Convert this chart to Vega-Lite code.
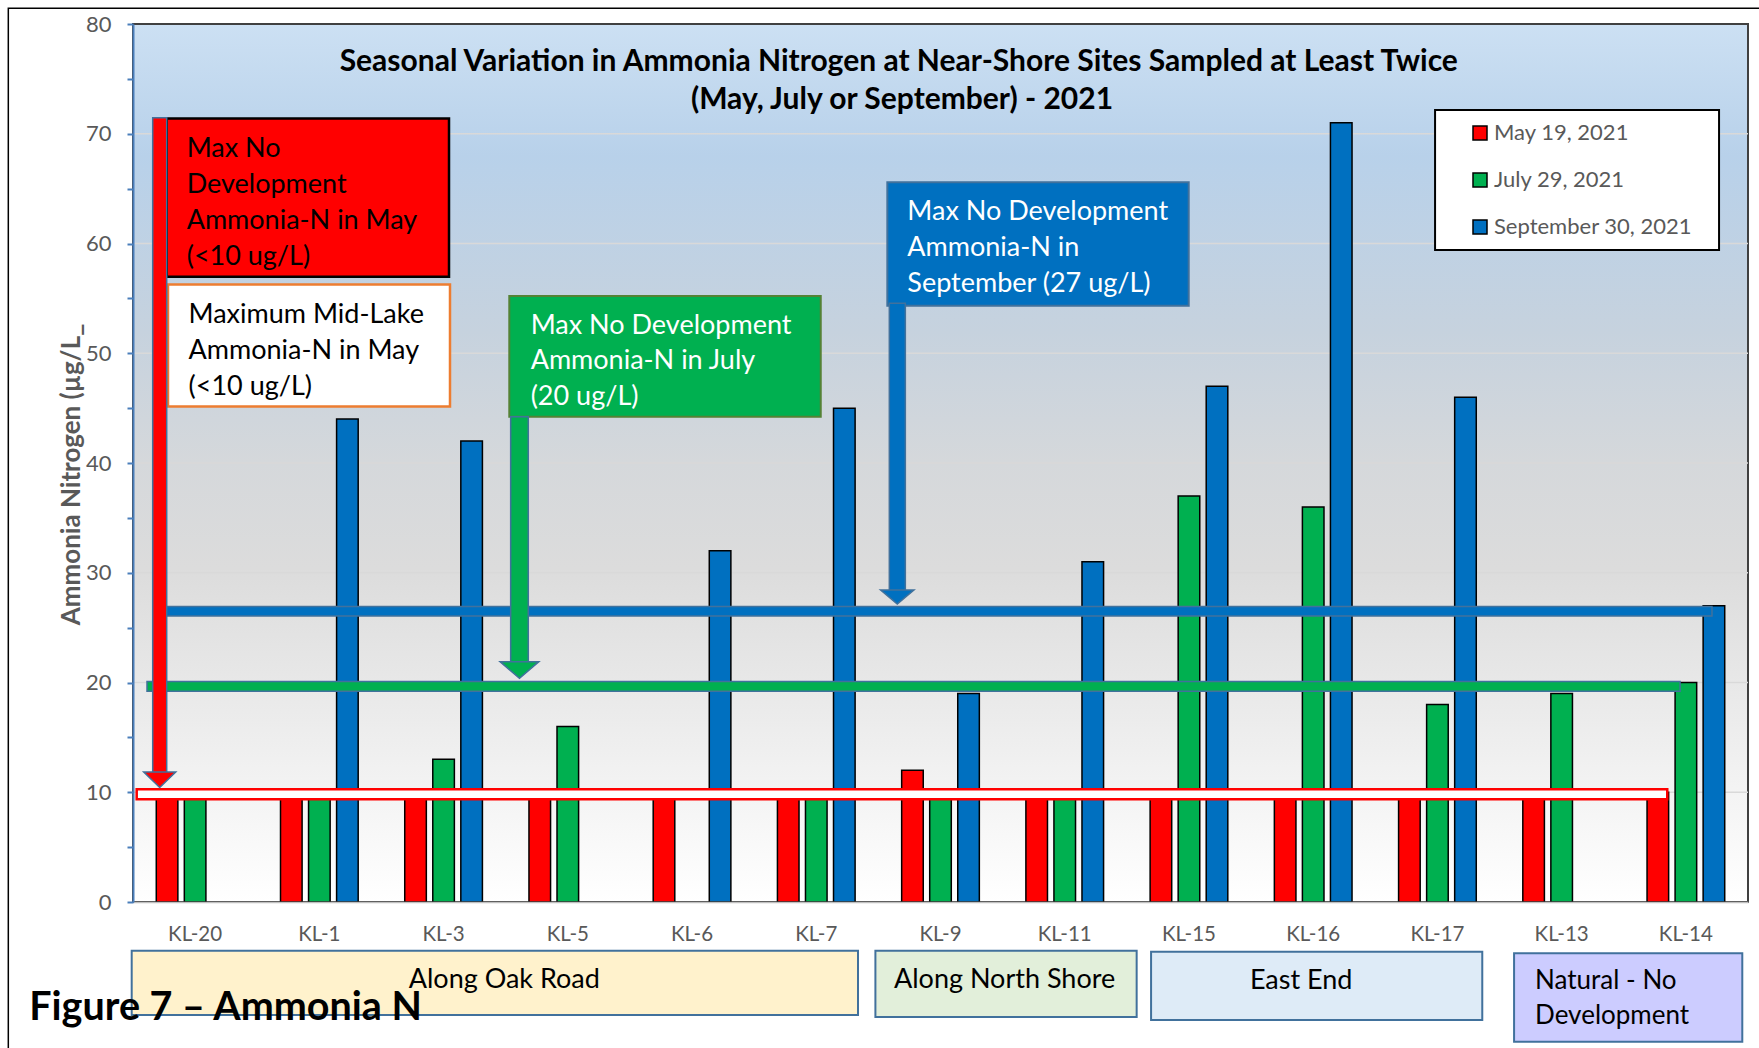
{
  "$schema": "https://vega.github.io/schema/vega-lite/v6.json",
  "width": 1615,
  "height": 878,
  "autosize": {"type": "none"},
  "padding": {"left": 133, "top": 24, "right": 11, "bottom": 146},
  "background": "white",
  "config": {"font": "Lato", "view": {"stroke": null}, "legend": {"labelFontSize": 22, "labelLimit": 400}},
  "resolve": {"scale": {"x": "independent"}, "axis": {"y": "independent"}},
  "layer": [
    {
      "data": {"values": [{"x1": -1.0037, "x2": 13.2, "y1": 81.43, "y2": -14.5}]},
      "mark": {"type": "rect", "fill": null, "stroke": "black", "strokeWidth": 1.5},
      "encoding": {
        "x": {"field": "x1", "type": "quantitative", "scale": {"domain": [0, 13], "nice": false, "zero": false}, "axis": null},
        "x2": {"field": "x2"},
        "y": {"field": "y1", "type": "quantitative", "scale": {"domain": [0, 80], "nice": false}, "axis": null},
        "y2": {"field": "y2"}
      }
    },
    {
      "data": {"values": [{"x1": 0, "x2": 13, "y1": 80, "y2": 0}]},
      "mark": {"type": "rect", "stroke": "#404040", "strokeWidth": 2,
        "fill": {"gradient": "linear", "x1": 0, "y1": 0, "x2": 0, "y2": 1,
          "stops": [
            {"offset": 0, "color": "#CCE0F3"},
            {"offset": 0.15, "color": "#B8D1EA"},
            {"offset": 0.35, "color": "#C6D2DE"},
            {"offset": 0.5, "color": "#D5D8DB"},
            {"offset": 0.62, "color": "#DCDCDC"},
            {"offset": 1, "color": "#FFFFFF"}
          ]}},
      "encoding": {
        "x": {"field": "x1", "type": "quantitative", "scale": {"domain": [0, 13], "nice": false, "zero": false}, "axis": null},
        "x2": {"field": "x2"},
        "y": {"field": "y1", "type": "quantitative", "scale": {"domain": [0, 80], "nice": false}, "axis": null},
        "y2": {"field": "y2"}
      }
    },
    {
      "data": {"values": [{"v": 10}, {"v": 20}, {"v": 30}, {"v": 40}, {"v": 50}, {"v": 60}, {"v": 70}]},
      "mark": {"type": "rule", "color": "#D9D9D9", "strokeWidth": 1.5},
      "encoding": {
        "y": {"field": "v", "type": "quantitative", "scale": {"domain": [0, 80], "nice": false}, "axis": null}
      }
    },
    {
      "data": {"values": [
        {"site": "KL-20", "date": "May 19, 2021", "ammonia": 10},
        {"site": "KL-20", "date": "July 29, 2021", "ammonia": 10},
        {"site": "KL-1", "date": "May 19, 2021", "ammonia": 10},
        {"site": "KL-1", "date": "July 29, 2021", "ammonia": 10},
        {"site": "KL-1", "date": "September 30, 2021", "ammonia": 44},
        {"site": "KL-3", "date": "May 19, 2021", "ammonia": 10},
        {"site": "KL-3", "date": "July 29, 2021", "ammonia": 13},
        {"site": "KL-3", "date": "September 30, 2021", "ammonia": 42},
        {"site": "KL-5", "date": "May 19, 2021", "ammonia": 10},
        {"site": "KL-5", "date": "July 29, 2021", "ammonia": 16},
        {"site": "KL-6", "date": "May 19, 2021", "ammonia": 10},
        {"site": "KL-6", "date": "September 30, 2021", "ammonia": 32},
        {"site": "KL-7", "date": "May 19, 2021", "ammonia": 10},
        {"site": "KL-7", "date": "July 29, 2021", "ammonia": 10},
        {"site": "KL-7", "date": "September 30, 2021", "ammonia": 45},
        {"site": "KL-9", "date": "May 19, 2021", "ammonia": 12},
        {"site": "KL-9", "date": "July 29, 2021", "ammonia": 10},
        {"site": "KL-9", "date": "September 30, 2021", "ammonia": 19},
        {"site": "KL-11", "date": "May 19, 2021", "ammonia": 10},
        {"site": "KL-11", "date": "July 29, 2021", "ammonia": 10},
        {"site": "KL-11", "date": "September 30, 2021", "ammonia": 31},
        {"site": "KL-15", "date": "May 19, 2021", "ammonia": 10},
        {"site": "KL-15", "date": "July 29, 2021", "ammonia": 37},
        {"site": "KL-15", "date": "September 30, 2021", "ammonia": 47},
        {"site": "KL-16", "date": "May 19, 2021", "ammonia": 10},
        {"site": "KL-16", "date": "July 29, 2021", "ammonia": 36},
        {"site": "KL-16", "date": "September 30, 2021", "ammonia": 71},
        {"site": "KL-17", "date": "May 19, 2021", "ammonia": 10},
        {"site": "KL-17", "date": "July 29, 2021", "ammonia": 18},
        {"site": "KL-17", "date": "September 30, 2021", "ammonia": 46},
        {"site": "KL-13", "date": "May 19, 2021", "ammonia": 10},
        {"site": "KL-13", "date": "July 29, 2021", "ammonia": 19},
        {"site": "KL-14", "date": "May 19, 2021", "ammonia": 10},
        {"site": "KL-14", "date": "July 29, 2021", "ammonia": 20},
        {"site": "KL-14", "date": "September 30, 2021", "ammonia": 27}
      ]},
      "mark": {"type": "bar", "stroke": "black", "strokeWidth": 1.5},
      "encoding": {
        "x": {"field": "site", "type": "nominal",
          "sort": ["KL-20", "KL-1", "KL-3", "KL-5", "KL-6", "KL-7", "KL-9", "KL-11", "KL-15", "KL-16", "KL-17", "KL-13", "KL-14"],
          "scale": {"paddingInner": 0, "paddingOuter": 0},
          "axis": {"orient": "bottom", "title": null, "ticks": false, "tickSize": 0, "labelAngle": 0,
            "labelColor": "#595959", "labelFontSize": 20.5, "labelFont": "Lato", "labelPadding": 32, "labelBaseline": "middle",
            "domainColor": "#BFBFBF", "domainWidth": 1.5, "grid": false, "zindex": 1}},
        "xOffset": {"field": "date", "type": "nominal",
          "sort": ["May 19, 2021", "July 29, 2021", "September 30, 2021"],
          "scale": {"paddingInner": 0.23, "paddingOuter": 0.83}},
        "y": {"field": "ammonia", "type": "quantitative", "scale": {"domain": [0, 80], "nice": false},
          "axis": {"orient": "left", "values": [0, 5, 10, 15, 20, 25, 30, 35, 40, 45, 50, 55, 60, 65, 70, 75, 80],
            "labelExpr": "datum.value % 10 === 0 ? datum.label : ''",
            "grid": false, "domainColor": "#4A7EBB", "domainWidth": 2, "tickColor": "#4A7EBB", "tickWidth": 2, "tickSize": 6,
            "labelColor": "#595959", "labelFontSize": 22, "labelFont": "Lato", "labelPadding": 16,
            "title": "Ammonia Nitrogen (µg/L_", "titleColor": "#595959", "titleFontSize": 26, "titleFontWeight": 700, "titleFont": "Lato",
            "titleX": -62, "titleY": 450, "titleAlign": "center", "titleBaseline": "middle", "titleAngle": -90, "zindex": 1}},
        "color": {"field": "date", "type": "nominal",
          "sort": ["May 19, 2021", "July 29, 2021", "September 30, 2021"],
          "scale": {"domain": ["May 19, 2021", "July 29, 2021", "September 30, 2021"], "range": ["#FF0000", "#00B050", "#0070C0"]},
          "legend": {"title": null, "orient": "none", "legendX": 1336, "legendY": 98, "direction": "vertical",
            "symbolType": "square", "symbolSize": 196, "symbolStrokeColor": "black", "symbolStrokeWidth": 1.5,
            "labelColor": "#595959", "labelFontSize": 22, "labelLimit": 400, "labelFont": "Lato", "rowPadding": 25, "labelOffset": 3, "padding": 0, "zindex": 2}}
      }
    },
    {
      "data": {"values": [{"x1": 0.0298, "x2": 12.35, "y1": 10.27, "y2": 9.36}]},
      "mark": {"type": "rect", "fill": "white", "stroke": "#FF0000", "strokeWidth": 2.5},
      "encoding": {
        "x": {"field": "x1", "type": "quantitative", "scale": {"domain": [0, 13], "nice": false, "zero": false}, "axis": null},
        "x2": {"field": "x2"},
        "y": {"field": "y1", "type": "quantitative", "scale": {"domain": [0, 80], "nice": false}, "axis": null},
        "y2": {"field": "y2"}
      }
    },
    {
      "data": {"values": [{"x1": 0.1127, "x2": 12.453, "y1": 20.1, "y2": 19.2}]},
      "mark": {"type": "rect", "fill": "#00B050", "stroke": "#41719C", "strokeWidth": 1.5},
      "encoding": {
        "x": {"field": "x1", "type": "quantitative", "scale": {"domain": [0, 13], "nice": false, "zero": false}, "axis": null},
        "x2": {"field": "x2"},
        "y": {"field": "y1", "type": "quantitative", "scale": {"domain": [0, 80], "nice": false}, "axis": null},
        "y2": {"field": "y2"}
      }
    },
    {
      "data": {"values": [{"x1": 0.2656, "x2": 12.71, "y1": 26.93, "y2": 26.07}]},
      "mark": {"type": "rect", "fill": "#0070C0", "stroke": "#41719C", "strokeWidth": 1.5},
      "encoding": {
        "x": {"field": "x1", "type": "quantitative", "scale": {"domain": [0, 13], "nice": false, "zero": false}, "axis": null},
        "x2": {"field": "x2"},
        "y": {"field": "y1", "type": "quantitative", "scale": {"domain": [0, 80], "nice": false}, "axis": null},
        "y2": {"field": "y2"}
      }
    },
    {
      "data": {"values": [{"x1": 0.2713, "x2": 2.5437, "y1": 71.4, "y2": 56.97}]},
      "mark": {"type": "rect", "fill": "#FF0000", "stroke": "black", "strokeWidth": 2.5},
      "encoding": {
        "x": {"field": "x1", "type": "quantitative", "scale": {"domain": [0, 13], "nice": false, "zero": false}, "axis": null},
        "x2": {"field": "x2"},
        "y": {"field": "y1", "type": "quantitative", "scale": {"domain": [0, 80], "nice": false}, "axis": null},
        "y2": {"field": "y2"}
      }
    },
    {
      "data": {"values": [{"x1": 0.2817, "x2": 2.5517, "y1": 56.26, "y2": 45.15}]},
      "mark": {"type": "rect", "fill": "white", "stroke": "#ED7D31", "strokeWidth": 2.5},
      "encoding": {
        "x": {"field": "x1", "type": "quantitative", "scale": {"domain": [0, 13], "nice": false, "zero": false}, "axis": null},
        "x2": {"field": "x2"},
        "y": {"field": "y1", "type": "quantitative", "scale": {"domain": [0, 80], "nice": false}, "axis": null},
        "y2": {"field": "y2"}
      }
    },
    {
      "data": {"values": [{"x1": 3.029, "x2": 5.536, "y1": 55.22, "y2": 44.22}]},
      "mark": {"type": "rect", "fill": "#00B050", "stroke": "#548235", "strokeWidth": 2},
      "encoding": {
        "x": {"field": "x1", "type": "quantitative", "scale": {"domain": [0, 13], "nice": false, "zero": false}, "axis": null},
        "x2": {"field": "x2"},
        "y": {"field": "y1", "type": "quantitative", "scale": {"domain": [0, 80], "nice": false}, "axis": null},
        "y2": {"field": "y2"}
      }
    },
    {
      "data": {"values": [{"x1": 6.072, "x2": 8.498, "y1": 65.57, "y2": 54.33}]},
      "mark": {"type": "rect", "fill": "#0070C0", "stroke": "#41719C", "strokeWidth": 2},
      "encoding": {
        "x": {"field": "x1", "type": "quantitative", "scale": {"domain": [0, 13], "nice": false, "zero": false}, "axis": null},
        "x2": {"field": "x2"},
        "y": {"field": "y1", "type": "quantitative", "scale": {"domain": [0, 80], "nice": false}, "axis": null},
        "y2": {"field": "y2"}
      }
    },
    {
      "data": {"values": [{"x1": 0.1586, "x2": 0.2713, "y1": 71.46, "y2": 11.7}]},
      "mark": {"type": "rect", "fill": "#FF0000", "stroke": "#41719C", "strokeWidth": 1.5},
      "encoding": {
        "x": {"field": "x1", "type": "quantitative", "scale": {"domain": [0, 13], "nice": false, "zero": false}, "axis": null},
        "x2": {"field": "x2"},
        "y": {"field": "y1", "type": "quantitative", "scale": {"domain": [0, 80], "nice": false}, "axis": null},
        "y2": {"field": "y2"}
      }
    },
    {
      "data": {"values": [{"x": 0.215, "y": 11.14}]},
      "mark": {"type": "point", "filled": true, "opacity": 1, "fill": "#FF0000", "stroke": "#41719C", "strokeWidth": 1.5,
        "shape": "M-1,-0.48L1,-0.48L0,0.48Z", "size": 1024},
      "encoding": {
        "x": {"field": "x", "type": "quantitative", "scale": {"domain": [0, 13], "nice": false, "zero": false}, "axis": null},
        "y": {"field": "y", "type": "quantitative", "scale": {"domain": [0, 80], "nice": false}, "axis": null}
      }
    },
    {
      "data": {"values": [{"x1": 3.04, "x2": 3.182, "y1": 44.22, "y2": 21.8}]},
      "mark": {"type": "rect", "fill": "#00B050", "stroke": "#41719C", "strokeWidth": 1.5},
      "encoding": {
        "x": {"field": "x1", "type": "quantitative", "scale": {"domain": [0, 13], "nice": false, "zero": false}, "axis": null},
        "x2": {"field": "x2"},
        "y": {"field": "y1", "type": "quantitative", "scale": {"domain": [0, 80], "nice": false}, "axis": null},
        "y2": {"field": "y2"}
      }
    },
    {
      "data": {"values": [{"x": 3.111, "y": 21.14}]},
      "mark": {"type": "point", "filled": true, "opacity": 1, "fill": "#00B050", "stroke": "#41719C", "strokeWidth": 1.5,
        "shape": "M-1,-0.43L1,-0.43L0,0.43Z", "size": 1498},
      "encoding": {
        "x": {"field": "x", "type": "quantitative", "scale": {"domain": [0, 13], "nice": false, "zero": false}, "axis": null},
        "y": {"field": "y", "type": "quantitative", "scale": {"domain": [0, 80], "nice": false}, "axis": null}
      }
    },
    {
      "data": {"values": [{"x1": 6.088, "x2": 6.217, "y1": 54.55, "y2": 28.3}]},
      "mark": {"type": "rect", "fill": "#0070C0", "stroke": "#41719C", "strokeWidth": 1.5},
      "encoding": {
        "x": {"field": "x1", "type": "quantitative", "scale": {"domain": [0, 13], "nice": false, "zero": false}, "axis": null},
        "x2": {"field": "x2"},
        "y": {"field": "y1", "type": "quantitative", "scale": {"domain": [0, 80], "nice": false}, "axis": null},
        "y2": {"field": "y2"}
      }
    },
    {
      "data": {"values": [{"x": 6.152, "y": 27.79}]},
      "mark": {"type": "point", "filled": true, "opacity": 1, "fill": "#0070C0", "stroke": "#41719C", "strokeWidth": 1.5,
        "shape": "M-1,-0.42L1,-0.42L0,0.42Z", "size": 1109},
      "encoding": {
        "x": {"field": "x", "type": "quantitative", "scale": {"domain": [0, 13], "nice": false, "zero": false}, "axis": null},
        "y": {"field": "y", "type": "quantitative", "scale": {"domain": [0, 80], "nice": false}, "axis": null}
      }
    },
    {
      "data": {"values": [{"x1": 10.481, "x2": 12.767, "y1": 72.16, "y2": 59.41}]},
      "mark": {"type": "rect", "fill": "white", "stroke": "black", "strokeWidth": 2},
      "encoding": {
        "x": {"field": "x1", "type": "quantitative", "scale": {"domain": [0, 13], "nice": false, "zero": false}, "axis": null},
        "x2": {"field": "x2"},
        "y": {"field": "y1", "type": "quantitative", "scale": {"domain": [0, 80], "nice": false}, "axis": null},
        "y2": {"field": "y2"}
      }
    },
    {
      "data": {"values": [{"x1": -0.0105, "x2": 5.836, "y1": -4.44, "y2": -10.3}]},
      "mark": {"type": "rect", "fill": "#FFF2CC", "stroke": "#41719C", "strokeWidth": 2},
      "encoding": {
        "x": {"field": "x1", "type": "quantitative", "scale": {"domain": [0, 13], "nice": false, "zero": false}, "axis": null},
        "x2": {"field": "x2"},
        "y": {"field": "y1", "type": "quantitative", "scale": {"domain": [0, 80], "nice": false}, "axis": null},
        "y2": {"field": "y2"}
      }
    },
    {
      "data": {"values": [{"x1": 5.976, "x2": 8.079, "y1": -4.45, "y2": -10.48}]},
      "mark": {"type": "rect", "fill": "#E2EFDA", "stroke": "#41719C", "strokeWidth": 2},
      "encoding": {
        "x": {"field": "x1", "type": "quantitative", "scale": {"domain": [0, 13], "nice": false, "zero": false}, "axis": null},
        "x2": {"field": "x2"},
        "y": {"field": "y1", "type": "quantitative", "scale": {"domain": [0, 80], "nice": false}, "axis": null},
        "y2": {"field": "y2"}
      }
    },
    {
      "data": {"values": [{"x1": 8.195, "x2": 10.861, "y1": -4.53, "y2": -10.75}]},
      "mark": {"type": "rect", "fill": "#DEEBF7", "stroke": "#41719C", "strokeWidth": 2},
      "encoding": {
        "x": {"field": "x1", "type": "quantitative", "scale": {"domain": [0, 13], "nice": false, "zero": false}, "axis": null},
        "x2": {"field": "x2"},
        "y": {"field": "y1", "type": "quantitative", "scale": {"domain": [0, 80], "nice": false}, "axis": null},
        "y2": {"field": "y2"}
      }
    },
    {
      "data": {"values": [{"x1": 11.117, "x2": 12.954, "y1": -4.67, "y2": -12.73}]},
      "mark": {"type": "rect", "fill": "#CCCCFF", "stroke": "#41719C", "strokeWidth": 2},
      "encoding": {
        "x": {"field": "x1", "type": "quantitative", "scale": {"domain": [0, 13], "nice": false, "zero": false}, "axis": null},
        "x2": {"field": "x2"},
        "y": {"field": "y1", "type": "quantitative", "scale": {"domain": [0, 80], "nice": false}, "axis": null},
        "y2": {"field": "y2"}
      }
    },
    {
      "data": {"values": [
        {"t": "Seasonal Variation in Ammonia Nitrogen at Near-Shore Sites Sampled at Least Twice", "x": 6.164, "y": 75.72},
        {"t": "(May, July or September) - 2021", "x": 6.19, "y": 72.21}
      ]},
      "mark": {"type": "text", "align": "center", "baseline": "alphabetic", "font": "Lato", "fontWeight": "bold", "fontSize": 30, "color": "black"},
      "encoding": {
        "x": {"field": "x", "type": "quantitative", "scale": {"domain": [0, 13], "nice": false, "zero": false}, "axis": null},
        "y": {"field": "y", "type": "quantitative", "scale": {"domain": [0, 80], "nice": false}, "axis": null},
        "text": {"field": "t"}
      }
    },
    {
      "data": {"values": [
        {"t": "Max No", "x": 0.432, "y": 67.91},
        {"t": "Development", "x": 0.432, "y": 64.57},
        {"t": "Ammonia-N in May", "x": 0.432, "y": 61.29},
        {"t": "(<10 ug/L)", "x": 0.432, "y": 58.04},
        {"t": "Maximum Mid-Lake", "x": 0.447, "y": 52.78},
        {"t": "Ammonia-N in May", "x": 0.447, "y": 49.44},
        {"t": "(<10 ug/L)", "x": 0.447, "y": 46.19}
      ]},
      "mark": {"type": "text", "align": "left", "baseline": "alphabetic", "font": "Lato", "fontSize": 27, "color": "black"},
      "encoding": {
        "x": {"field": "x", "type": "quantitative", "scale": {"domain": [0, 13], "nice": false, "zero": false}, "axis": null},
        "y": {"field": "y", "type": "quantitative", "scale": {"domain": [0, 80], "nice": false}, "axis": null},
        "text": {"field": "t"}
      }
    },
    {
      "data": {"values": [
        {"t": "Max No Development", "x": 3.201, "y": 51.75},
        {"t": "Ammonia-N in July", "x": 3.201, "y": 48.52},
        {"t": "(20 ug/L)", "x": 3.201, "y": 45.28},
        {"t": "Max No Development", "x": 6.233, "y": 62.14},
        {"t": "Ammonia-N in", "x": 6.233, "y": 58.86},
        {"t": "September (27 ug/L)", "x": 6.233, "y": 55.61}
      ]},
      "mark": {"type": "text", "align": "left", "baseline": "alphabetic", "font": "Lato", "fontSize": 27, "color": "white"},
      "encoding": {
        "x": {"field": "x", "type": "quantitative", "scale": {"domain": [0, 13], "nice": false, "zero": false}, "axis": null},
        "y": {"field": "y", "type": "quantitative", "scale": {"domain": [0, 80], "nice": false}, "axis": null},
        "text": {"field": "t"}
      }
    },
    {
      "data": {"values": [
        {"t": "Along Oak Road", "x": 2.989, "y": -7.86},
        {"t": "Along North Shore", "x": 7.016, "y": -7.88},
        {"t": "East End", "x": 9.403, "y": -7.96}
      ]},
      "mark": {"type": "text", "align": "center", "baseline": "alphabetic", "font": "Lato", "fontSize": 27, "color": "black"},
      "encoding": {
        "x": {"field": "x", "type": "quantitative", "scale": {"domain": [0, 13], "nice": false, "zero": false}, "axis": null},
        "y": {"field": "y", "type": "quantitative", "scale": {"domain": [0, 80], "nice": false}, "axis": null},
        "text": {"field": "t"}
      }
    },
    {
      "data": {"values": [
        {"t": "Natural - No", "x": 11.286, "y": -7.96},
        {"t": "Development", "x": 11.286, "y": -11.15}
      ]},
      "mark": {"type": "text", "align": "left", "baseline": "alphabetic", "font": "Lato", "fontSize": 26, "color": "black"},
      "encoding": {
        "x": {"field": "x", "type": "quantitative", "scale": {"domain": [0, 13], "nice": false, "zero": false}, "axis": null},
        "y": {"field": "y", "type": "quantitative", "scale": {"domain": [0, 80], "nice": false}, "axis": null},
        "text": {"field": "t"}
      }
    },
    {
      "data": {"values": [{"t": "Figure 7 – Ammonia N", "x": -0.835, "y": -10.75}]},
      "mark": {"type": "text", "align": "left", "baseline": "alphabetic", "font": "Lato", "fontWeight": "bold", "fontSize": 39.5, "color": "black"},
      "encoding": {
        "x": {"field": "x", "type": "quantitative", "scale": {"domain": [0, 13], "nice": false, "zero": false}, "axis": null},
        "y": {"field": "y", "type": "quantitative", "scale": {"domain": [0, 80], "nice": false}, "axis": null},
        "text": {"field": "t"}
      }
    }
  ]
}
